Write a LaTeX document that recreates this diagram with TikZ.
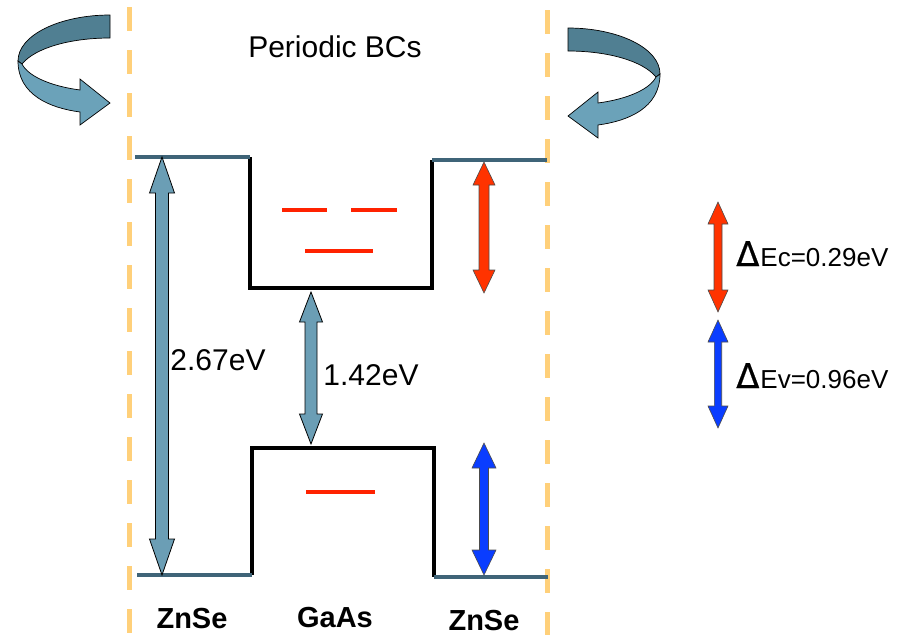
\documentclass[tikz,border=0pt]{standalone}
\usepackage{fontspec}
\setmainfont{Liberation Sans}
\newfontfamily\dvsfont[FakeBold=0.5]{DejaVu Sans}
\usetikzlibrary{calc}
\definecolor{steelA}{HTML}{6B9EB5}
\definecolor{bandteal}{HTML}{3F6478}
\definecolor{levelred}{HTML}{FF2200}
\definecolor{pbcorange}{HTML}{FFD07A}
\definecolor{arrred}{HTML}{FF3300}
\definecolor{arrblue}{HTML}{0A3DFF}
\definecolor{curvedark}{HTML}{507F92}
\definecolor{curvelight}{HTML}{6BA2B9}
% vertical double arrow between two named coordinates
\newcommand\vdarrow[6]{%
  \draw[#6] ($(#1)+(-#3,#5)$) -- ($(#1)+(-#4,#5)$) -- (#1) -- ($(#1)+(#4,#5)$)
    -- ($(#1)+(#3,#5)$) -- ($(#2)+(#3,-#5)$) -- ($(#2)+(#4,-#5)$) -- (#2)
    -- ($(#2)+(-#4,-#5)$) -- ($(#2)+(-#3,-#5)$) -- cycle;}
\newcommand\bigdelta{{\dvsfont\fontsize{34}{34}\selectfont Δ}\hspace{1pt}}
\begin{document}
\begin{tikzpicture}[x=1pt,y=-1pt,
  band/.style={line width=4pt, draw=bandteal},
  wall/.style={line width=4.5pt, draw=black, line join=miter},
  level/.style={line width=4pt, draw=levelred},
  pbc/.style={line width=5pt, draw=pbcorange, dash pattern=on 24pt off 19pt},
  bigarr/.style={fill=steelA, draw=black, line width=0.8pt, line join=miter},
  redarr/.style={fill=arrred, draw=black!70, line width=0.6pt, line join=miter},
  bluearr/.style={fill=arrblue, draw=black!70, line width=0.6pt, line join=miter},
  curvedk/.style={fill=curvedark, draw=black, line width=0.7pt},
  curvelt/.style={fill=curvelight, draw=black, line width=0.7pt, line join=miter},
  lbl/.style={font=\fontsize{30}{36}\selectfont, inner sep=0pt, anchor=base},
  mat/.style={font=\bfseries\fontsize{29}{34}\selectfont, inner sep=0pt, anchor=base},
  leg/.style={font=\fontsize{26}{30}\selectfont, inner sep=0pt, anchor=base west},
]
\useasboundingbox (0,0) rectangle (908,635);

% periodic boundary lines
\coordinate (pL1) at (129,7);   \coordinate (pL2) at (129,635);
\coordinate (pR1) at (547,10);  \coordinate (pR2) at (547,635);
\draw[pbc] (pL1) -- (pL2);
\draw[pbc] (pR1) -- (pR2);

% conduction band
\coordinate (cb0) at (135,157);
\coordinate (cb1) at (250,157);
\coordinate (cb2) at (250,288);
\coordinate (cb3) at (432,288);
\coordinate (cb4) at (432,160);
\coordinate (cb5) at (547,160);
\draw[wall] (cb1) -- (cb2) -- (cb3) -- (cb4);
\draw[band] (cb0) -- (cb1);
\draw[band] (cb4) -- (cb5);

% valence band
\coordinate (vb0) at (137,575);
\coordinate (vb1) at (252,575);
\coordinate (vb2) at (252,448);
\coordinate (vb3) at (434,448);
\coordinate (vb4) at (434,577);
\coordinate (vb5) at (548,577);
\draw[wall] (vb1) -- (vb2) -- (vb3) -- (vb4);
\draw[band] (vb0) -- (vb1);
\draw[band] (vb4) -- (vb5);

% confined levels
\coordinate (e1a) at (282,210); \coordinate (e1b) at (327,210);
\coordinate (e2a) at (351,210); \coordinate (e2b) at (397,210);
\coordinate (e3a) at (305,251); \coordinate (e3b) at (373,251);
\coordinate (h1a) at (306,492); \coordinate (h1b) at (375,492);
\draw[level] (e1a) -- (e1b);
\draw[level] (e2a) -- (e2b);
\draw[level] (e3a) -- (e3b);
\draw[level] (h1a) -- (h1b);

% gap arrows
\coordinate (gzT) at (162,157); \coordinate (gzB) at (162,575);
\coordinate (ggT) at (311,292); \coordinate (ggB) at (311,444);
\vdarrow{gzT}{gzB}{6.5}{12.5}{36}{bigarr}
\vdarrow{ggT}{ggB}{6}{11.5}{30}{bigarr}

% offset arrows
\coordinate (ecT) at (484,162); \coordinate (ecB) at (484,293);
\coordinate (evT) at (484,443); \coordinate (evB) at (484,575);
\vdarrow{ecT}{ecB}{5}{11}{23}{redarr}
\vdarrow{evT}{evB}{4.5}{12}{25}{bluearr}

% legend arrows
\coordinate (lcT) at (718,202); \coordinate (lcB) at (718,312);
\coordinate (lvT) at (718,320); \coordinate (lvB) at (718,428);
\vdarrow{lcT}{lcB}{4}{10}{22}{redarr}
\vdarrow{lvT}{lvB}{3.7}{10}{22}{bluearr}

% curved arrows (periodic boundary conditions)
\begin{scope}
  \draw[curvedk] (110,15) .. controls (60,15) and (18,35) .. (18,61)
     -- (22,64) .. controls (35,48) and (70,38) .. (110,38) -- cycle;
  \draw[curvelt] (18,61) .. controls (18,95) and (50,108) .. (80,112)
     -- (80,125) -- (110,103) -- (80,79) -- (80,90)
     .. controls (50,86) and (28,76) .. (22,64) -- cycle;
\end{scope}
\begin{scope}[shift={(678,13)}, xscale=-1]
  \draw[curvedk] (110,15) .. controls (60,15) and (18,35) .. (18,61)
     -- (22,64) .. controls (35,48) and (70,38) .. (110,38) -- cycle;
  \draw[curvelt] (18,61) .. controls (18,95) and (50,108) .. (80,112)
     -- (80,125) -- (110,103) -- (80,79) -- (80,90)
     .. controls (50,86) and (28,76) .. (22,64) -- cycle;
\end{scope}

% labels
\node[lbl] (pbclabel) at (335,57) {Periodic BCs};
\node[lbl] (gzlabel) at (218,370) {2.67eV};
\node[lbl] (gglabel) at (371,385) {1.42eV};
\node[mat] (mat1) at (192,628) {ZnSe};
\node[mat] (mat2) at (335,627) {GaAs};
\node[mat] (mat3) at (484,630) {ZnSe};
\node[leg] (legc) at (736,266) {\bigdelta Ec=0.29eV};
\node[leg] (legv) at (736,388) {\bigdelta Ev=0.96eV};
\end{tikzpicture}
\end{document}
